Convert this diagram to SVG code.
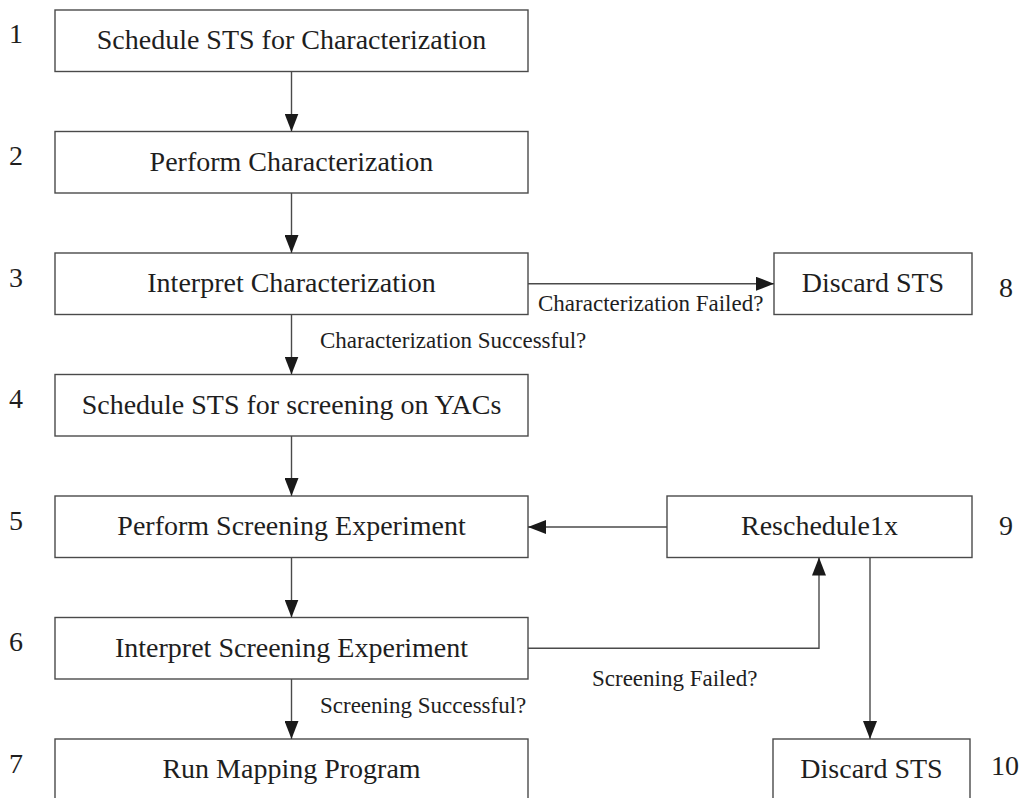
<svg xmlns="http://www.w3.org/2000/svg" width="1024" height="798" viewBox="0 0 1024 798">
  <style>
    .box { fill: #ffffff; stroke: #4a4a4a; stroke-width: 1.4; }
    .txt { font-family: "Liberation Serif", "Times New Roman", serif; font-size: 28px; fill: #1e1e1e; text-anchor: middle; }
    .num { font-family: "Liberation Serif", "Times New Roman", serif; font-size: 28px; fill: #1e1e1e; }
    .lbl { font-family: "Liberation Serif", "Times New Roman", serif; font-size: 23px; fill: #1e1e1e; }
    .wire { fill: none; stroke: #4a4a4a; stroke-width: 1.4; }
  </style>
  <defs>
    <marker id="head" markerUnits="userSpaceOnUse" markerWidth="18" markerHeight="14" refX="18" refY="7" orient="auto">
      <path d="M0,0 L18,7 L0,14 Z" fill="#1a1a1a"/>
    </marker>
  </defs>
  <rect width="1024" height="798" fill="#ffffff"/>

  <!-- process steps -->
  <g id="step1">
    <rect class="box" x="55" y="10" width="473" height="61.5"/>
    <text class="txt" x="291.5" y="49">Schedule STS for Characterization</text>
    <text class="num" x="9" y="43">1</text>
  </g>
  <g id="step2">
    <rect class="box" x="55" y="131.5" width="473" height="61.5"/>
    <text class="txt" x="291.5" y="170.5">Perform Characterization</text>
    <text class="num" x="9" y="165">2</text>
  </g>
  <g id="step3">
    <rect class="box" x="55" y="253" width="473" height="61.5"/>
    <text class="txt" x="291.5" y="292">Interpret Characterization</text>
    <text class="num" x="9" y="286.5">3</text>
  </g>
  <g id="step4">
    <rect class="box" x="55" y="374.5" width="473" height="61.5"/>
    <text class="txt" x="291.5" y="413.5">Schedule STS for screening on YACs</text>
    <text class="num" x="9" y="408">4</text>
  </g>
  <g id="step5">
    <rect class="box" x="55" y="496" width="473" height="61.5"/>
    <text class="txt" x="291.5" y="535">Perform Screening Experiment</text>
    <text class="num" x="9" y="529.5">5</text>
  </g>
  <g id="step6">
    <rect class="box" x="55" y="617.5" width="473" height="61.5"/>
    <text class="txt" x="291.5" y="656.5">Interpret Screening Experiment</text>
    <text class="num" x="9" y="651">6</text>
  </g>
  <g id="step7">
    <rect class="box" x="55" y="739" width="473" height="80"/>
    <text class="txt" x="291.5" y="778">Run Mapping Program</text>
    <text class="num" x="9" y="772.5">7</text>
  </g>
  <g id="step8">
    <rect class="box" x="774" y="253" width="198" height="61.5"/>
    <text class="txt" x="873" y="292">Discard STS</text>
    <text class="num" x="999" y="297">8</text>
  </g>
  <g id="step9">
    <rect class="box" x="667" y="496" width="305" height="61.5"/>
    <text class="txt" x="819.5" y="535">Reschedule1x</text>
    <text class="num" x="999" y="535">9</text>
  </g>
  <g id="step10">
    <rect class="box" x="773" y="739" width="197" height="80"/>
    <text class="txt" x="871.5" y="778">Discard STS</text>
    <text class="num" x="991" y="775">10</text>
  </g>

  <!-- connectors -->
  <g id="connectors">
    <line class="wire" x1="291.5" y1="71.5" x2="291.5" y2="131.5" marker-end="url(#head)"/>
    <line class="wire" x1="291.5" y1="193" x2="291.5" y2="253" marker-end="url(#head)"/>
    <line class="wire" x1="291.5" y1="314.5" x2="291.5" y2="374.5" marker-end="url(#head)"/>
    <line class="wire" x1="291.5" y1="436" x2="291.5" y2="496" marker-end="url(#head)"/>
    <line class="wire" x1="291.5" y1="557.5" x2="291.5" y2="617.5" marker-end="url(#head)"/>
    <line class="wire" x1="291.5" y1="679" x2="291.5" y2="739" marker-end="url(#head)"/>
    <line class="wire" x1="528" y1="283.75" x2="774" y2="283.75" marker-end="url(#head)"/>
    <line class="wire" x1="667" y1="527" x2="528" y2="527" marker-end="url(#head)"/>
    <polyline class="wire" points="528,648.25 819,648.25 819,557.5" marker-end="url(#head)"/>
    <line class="wire" x1="870" y1="557.5" x2="870" y2="739" marker-end="url(#head)"/>

    <text class="lbl" x="320" y="348">Characterization Successful?</text>
    <text class="lbl" x="538" y="311">Characterization Failed?</text>
    <text class="lbl" x="320" y="712.5">Screening Successful?</text>
    <text class="lbl" x="592" y="686">Screening Failed?</text>
  </g>
</svg>
